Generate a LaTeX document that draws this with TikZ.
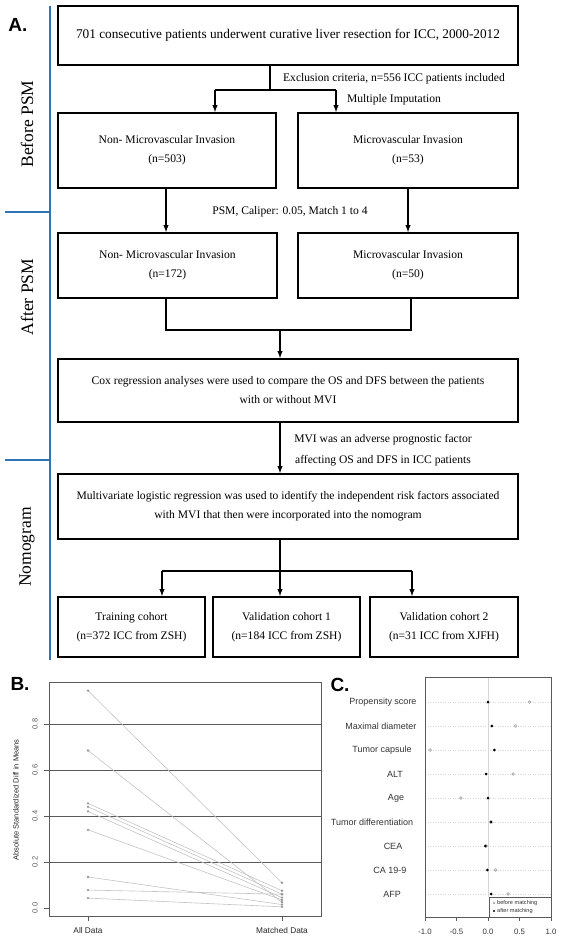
\documentclass[tikz,border=0pt]{standalone}
\usepackage{fontspec}
\setmainfont{Liberation Serif}
\setsansfont{Liberation Sans}
\usetikzlibrary{arrows}
\definecolor{phaseblue}{RGB}{46,117,182}
\definecolor{gridgray}{RGB}{90,90,90}
\definecolor{pointgray}{RGB}{150,150,150}
\definecolor{pairgray}{RGB}{195,195,195}
\definecolor{dotgray}{RGB}{215,215,215}
\tikzset{
	flowbox/.style={draw=black, line width=1.8pt, inner sep=0pt, align=center, font=\fontsize{11.6}{19}\selectfont},
	flowlabel/.style={inner sep=0pt, align=center, font=\fontsize{11.6}{21}\selectfont},
	flowline/.style={draw=black, line width=1.4pt},
	flowarrow/.style={flowline, -latex},
	phaseline/.style={draw=phaseblue, line width=1.6pt},
	phaselabel/.style={rotate=90, inner sep=0pt, font=\fontsize{17.5}{20}\selectfont},
	panellabel/.style={inner sep=0pt, font=\sffamily\bfseries\fontsize{19}{20}\selectfont},
	plotframe/.style={draw=gridgray, line width=0.8pt},
	ticklabel/.style={inner sep=0pt, font=\sffamily\fontsize{7.5}{8}\selectfont, text=gridgray},
	rowlabel/.style={inner sep=0pt, font=\sffamily\fontsize{9}{10}\selectfont, text=black!80}
}
\begin{document}
\begin{tikzpicture}[x=1pt, y=-1pt]
	\useasboundingbox (0,0) rectangle (562,940);
	% panel A: flow chart
	\node[panellabel] (labA) at (18,25) {A.};
	\draw[phaseline] (50,6) -- (50,660);
	\draw[phaseline] (5,212) -- (50,212);
	\draw[phaseline] (5,460) -- (50,460);
	\node[phaselabel] (before) at (27,124) {Before PSM};
	\node[phaselabel] (after) at (27,297) {After PSM};
	\node[phaselabel] (nomo) at (27,547) {Nomogram};
	\node[flowbox, minimum width=460pt, minimum height=59pt, font=\fontsize{13.3}{19}\selectfont] (top) at (288,35.5) {701 consecutive patients underwent curative liver resection for ICC, 2000-2012};
	\node[flowbox, minimum width=218pt, minimum height=75pt] (nonA) at (167,150.5) {Non- Microvascular Invasion\\(n=503)};
	\node[flowbox, minimum width=220pt, minimum height=75pt] (mviA) at (408,150.5) {Microvascular Invasion\\(n=53)};
	\node[flowbox, minimum width=219pt, minimum height=65pt] (nonB) at (167.5,265.5) {Non- Microvascular Invasion\\(n=172)};
	\node[flowbox, minimum width=220pt, minimum height=65pt] (mviB) at (408,265.5) {Microvascular Invasion\\(n=50)};
	\node[flowbox, minimum width=460pt, minimum height=63pt] (cox) at (288,390.5) {Cox regression analyses were used to compare the OS and DFS between the patients\\with or without MVI};
	\node[flowbox, minimum width=460pt, minimum height=65pt] (multi) at (288,506.5) {Multivariate logistic regression was used to identify the independent risk factors associated\\with MVI that then were incorporated into the nomogram};
	\node[flowbox, minimum width=147pt, minimum height=60pt] (train) at (131.5,627) {Training cohort\\(n=372 ICC from ZSH)};
	\node[flowbox, minimum width=147pt, minimum height=60pt] (valA) at (286.5,627) {Validation cohort 1\\(n=184 ICC from ZSH)};
	\node[flowbox, minimum width=148pt, minimum height=60pt] (valB) at (444,627) {Validation cohort 2\\(n=31 ICC from XJFH)};
	\node[flowlabel] (excl) at (394,89) {Exclusion criteria, n=556 ICC patients included\\Multiple Imputation};
	\node[flowlabel] (psm) at (290,212) {PSM, Caliper: 0.05, Match 1 to 4};
	\node[flowlabel] (adverse) at (383,450) {MVI was an adverse prognostic factor\\affecting OS and DFS in ICC patients};
	\coordinate (split) at (270,90);
	\coordinate (splitL) at (215,90);
	\coordinate (splitR) at (336,90);
	\coordinate (mergeL) at (166,330);
	\coordinate (mergeR) at (411,330);
	\coordinate (merge) at (280,330);
	\coordinate (fork) at (280,571);
	\coordinate (forkL) at (162,571);
	\coordinate (forkR) at (412,571);
	\draw[flowline] (top.south -| split) -- (split);
	\draw[flowline] (splitL) -- (splitR);
	\draw[flowarrow] (splitL) -- (splitL |- nonA.north);
	\draw[flowarrow] (splitR) -- (splitR |- mviA.north);
	\draw[flowarrow] (nonA.south -| mergeL) -- (mergeL |- nonB.north);
	\draw[flowarrow] (mviA.south) -- (mviB.north);
	\draw[flowline] (nonB.south -| mergeL) -- (mergeL) -- (mergeR) -- (mergeR |- mviB.south);
	\draw[flowarrow] (merge) -- (merge |- cox.north);
	\draw[flowarrow] (cox.south -| merge) -- (multi.north -| merge);
	\draw[flowline] (multi.south -| fork) -- (fork);
	\draw[flowline] (forkL) -- (forkR);
	\draw[flowarrow] (forkL) -- (forkL |- train.north);
	\draw[flowarrow] (fork) -- (fork |- valA.north);
	\draw[flowarrow] (forkR) -- (forkR |- valB.north);
	% panel B: standardized differences
	\node[panellabel] (labB) at (20,684) {B.};
	\draw[plotframe] (49,682) rectangle (321,916);
	\foreach \v in {0.2,0.4,0.6,0.8}
		\draw[draw=gridgray, line width=1pt] (49,{908-230*\v}) -- (321,{908-230*\v});
	\foreach \v in {0.0,0.2,0.4,0.6,0.8} {
		\draw[draw=gridgray, line width=0.5pt] (49,{908-230*\v}) -- (44,{908-230*\v});
		\node[ticklabel, rotate=90] at (35,{908-230*\v}) {\v};
	}
	\node[ticklabel, rotate=90, text=black!85] (ytitle) at (16,800) {Absolute Standardized Diff in Means};
	\foreach \a/\m in {0.945/0.11, 0.685/0.025, 0.455/0.075, 0.44/0.06, 0.42/0.045, 0.34/0.035, 0.135/0.015, 0.078/0.06, 0.043/0.005} {
		\draw[draw=pairgray, line width=0.6pt] (88,{908-230*\a}) -- (282,{908-230*\m});
		\fill[pointgray] (88,{908-230*\a}) circle (1.3);
		\fill[pointgray] (282,{908-230*\m}) circle (1.3);
	}
	\draw[draw=gridgray, line width=0.5pt] (88,916) -- (88,921);
	\draw[draw=gridgray, line width=0.5pt] (282,916) -- (282,921);
	\node[ticklabel, text=black!85, font=\sffamily\fontsize{8.3}{9}\selectfont] (alldata) at (88,931) {All Data};
	\node[ticklabel, text=black!85, font=\sffamily\fontsize{8.3}{9}\selectfont] (matched) at (282,931) {Matched Data};
	% panel C: before and after matching
	\node[panellabel] (labC) at (340,685) {C.};
	\draw[draw=dotgray, line width=0.6pt] (488,677) -- (488,897);
	\foreach \lab/\lx/\y/\b/\af in {Propensity score/383/702/0.66/0.0, Maximal diameter/381/726/0.44/0.06, Tumor capsule/382/750/-0.92/0.1, ALT/395/774/0.4/-0.03, Age/396/798/-0.43/0.0, Tumor differentiation/372/822/0.04/0.05, CEA/393/846/-0.03/-0.04, CA 19-9/390/870/0.12/-0.01, AFP/392/894/0.32/0.05} {
		\draw[draw=dotgray, line width=0.5pt, dotted] (425,\y) -- (551,\y);
		\node[rowlabel] at (\lx,\y) {\lab};
		\draw[draw=pointgray, line width=0.5pt] ({488+63*\b},\y) circle (1.4);
		\fill[black] ({488+63*\af},\y) circle (1.5);
	}
	\draw[plotframe] (425,677) rectangle (551,917);
	\draw[draw=gridgray, line width=0.6pt, fill=white] (489,897) rectangle (551,917);
	\draw[draw=pointgray, line width=0.4pt] (494,903) circle (1.1);
	\fill[black] (494,911) circle (1.2);
	\node[anchor=west, inner sep=0pt, font=\sffamily\fontsize{5.6}{6}\selectfont, text=black!80] (lgbefore) at (497,903) {before matching};
	\node[anchor=west, inner sep=0pt, font=\sffamily\fontsize{5.6}{6}\selectfont, text=black!80] (lgafter) at (497,911) {after matching};
	\foreach \t/\tl in {-1.0/-1.0, -0.5/-0.5, 0.0/0.0, 0.5/0.5, 1.0/1.0} {
		\draw[draw=gridgray, line width=0.5pt] ({488+63*\t},917) -- ({488+63*\t},921);
		\node[ticklabel, font=\sffamily\fontsize{7.8}{8}\selectfont, text=black!80] at ({488+63*\t},932) {\tl};
	}
\end{tikzpicture}
\end{document}
